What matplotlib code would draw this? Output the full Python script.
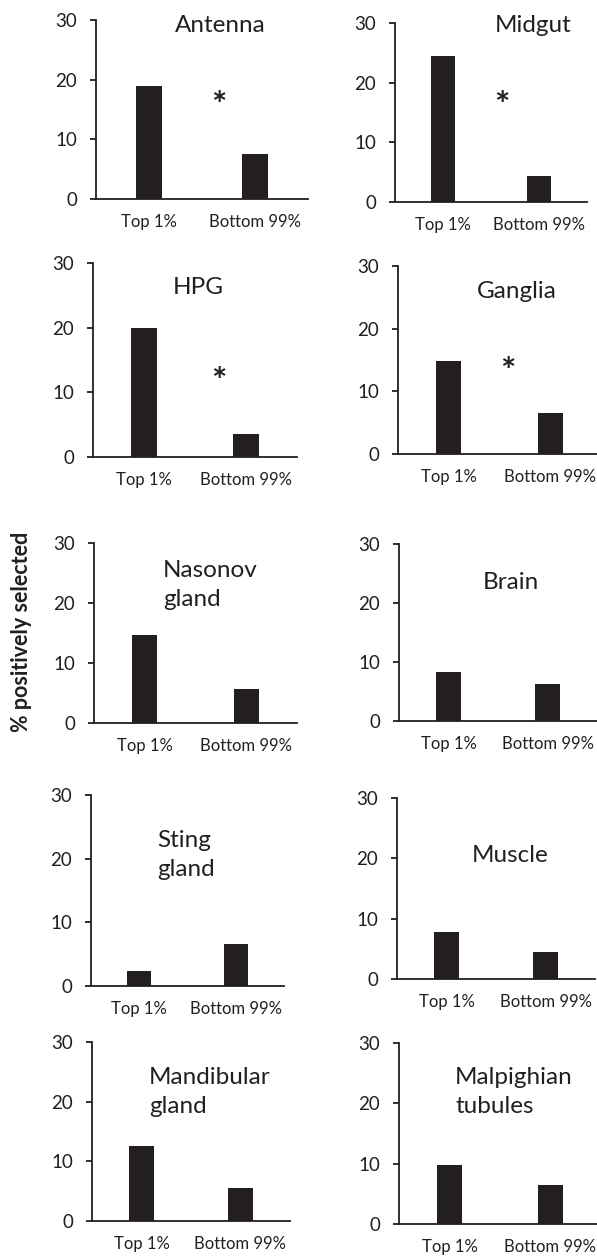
import matplotlib
matplotlib.use('Agg')
from matplotlib import pyplot as plt

plt.rcParams['font.family'] = ['Lato', 'DejaVu Sans']

W, H = 597, 1256

# data
tissues = ['Antenna', 'Midgut', 'HPG', 'Ganglia', 'Nasonov\ngland', 'Brain',
           'Sting\ngland', 'Muscle', 'Mandibular\ngland', 'Malpighian\ntubules']
categories = ['Top 1%', 'Bottom 99%']
top_1 = [19.0, 24.4, 20.0, 14.8, 14.6, 8.3, 2.4, 7.8, 12.5, 9.8]
bottom_99 = [7.5, 4.4, 3.5, 6.5, 5.7, 6.2, 6.6, 4.4, 5.5, 6.4]
significant = [True, True, True, True, False, False, False, False, False, False]

# layout, in pixels: spine x, right end x, top y, zero y
boxes = [(96, 308, 20, 199), (395, 587, 23, 202),
         (93, 297, 263, 457), (398, 601, 266, 454),
         (94, 297, 543, 723), (399, 597, 544, 721),
         (91, 284, 795, 986), (397, 595, 798, 979),
         (92, 290, 1042, 1221), (399, 601, 1043, 1224)]
# title anchor (pixels) and alignment
title_pos = [(220, 25, 'center'), (533, 25, 'center'),
             (198, 288, 'center'), (517, 291, 'center'),
             (163, 585, 'left'), (511, 582, 'center'),
             (157, 855, 'left'), (510, 856, 'center'),
             (149, 1092, 'left'), (455, 1092, 'left')]
# asterisk place in data units
star_pos = [(0.66, 15.5), (0.61, 16.0), (0.73, 11.5), (0.58, 13.0),
            None, None, None, None, None, None]

bar_color = '#231f20'
ink = '#231f20'

fig = plt.figure(figsize=(W / 100, H / 100), dpi=100)

for i, name in enumerate(tissues):
    x0, x1, yt, yz = boxes[i]
    ax = fig.add_axes([x0 / W, 1 - yz / H, (x1 - x0) / W, (yz - yt) / H])
    ax.bar([0, 1], [top_1[i], bottom_99[i]], width=0.25, color=bar_color)
    ax.set_xlim(-0.5, 1.5)
    ax.set_ylim(0, 30)
    ax.set_yticks([0, 10, 20, 30])
    ax.set_xticks([0, 1])
    ax.set_xticklabels(categories)
    for s in ['top', 'right']:
        ax.spines[s].set_visible(False)
    for s in ['left', 'bottom']:
        ax.spines[s].set_linewidth(1.3)
        ax.spines[s].set_color(ink)
    ax.tick_params(axis='y', length=4.5, width=1.3, color=ink, pad=9,
                   labelsize=13.5, labelcolor=ink)
    ax.tick_params(axis='x', length=0, pad=11, labelsize=12, labelcolor=ink)
    ax.patch.set_alpha(0)
    if significant[i]:
        ax.text(star_pos[i][0], star_pos[i][1], '*', ha='center', va='center',
                fontsize=26, fontweight='bold', color=ink)
    tx, ty, al = title_pos[i]
    fig.text(tx / W, 1 - ty / H, name, ha=al, va='center', fontsize=17.5,
             color=ink, linespacing=1.45)

fig.text(22 / W, 1 - 632 / H, '% positively selected', rotation=90,
         ha='center', va='center', fontsize=15.5, fontweight='bold', color=ink)

fig.savefig('out.png', dpi=100)
